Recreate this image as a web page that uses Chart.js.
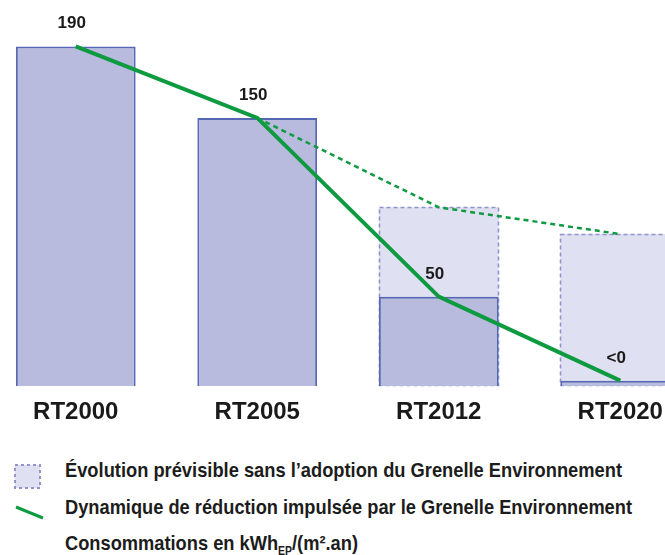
<!DOCTYPE html>
<html><head><meta charset="utf-8">
<script src="https://cdn.jsdelivr.net/npm/chart.js@4"></script>
<style>
html,body{margin:0;padding:0;background:#fff;}
#root{position:relative;width:665px;height:555px;overflow:hidden;background:#fff;}
#wrap{position:absolute;left:-15px;top:0;width:726px;height:440px;}
.leg{position:absolute;left:65px;font-family:"Liberation Sans Narrow","Liberation Sans",Arial,sans-serif;font-weight:bold;font-size:21px;color:#1c1c1c;white-space:nowrap;transform-origin:0 50%;line-height:24px;}
.leg sub{font-size:12px;vertical-align:-5px;line-height:0;}
</style></head><body>
<div id="root">
  <div id="wrap"><canvas id="c"></canvas></div>
  <svg style="position:absolute;left:13px;top:463px" width="30" height="28"><rect x="2" y="2" width="25" height="23" fill="#dfe0f1" stroke="#9093cc" stroke-width="2" stroke-dasharray="3,3"/></svg>
  <svg style="position:absolute;left:13px;top:503px" width="34" height="20"><line x1="3" y1="4" x2="30" y2="15" stroke="#0e9a40" stroke-width="3"/></svg>
  <div class="leg" id="l1" style="top:458px">Évolution prévisible sans l’adoption du Grenelle Environnement</div>
  <div class="leg" id="l2" style="top:495px">Dynamique de réduction impulsée par le Grenelle Environnement</div>
  <div class="leg" id="l3" style="top:531px">Consommations en kWh<sub>EP</sub>/(m².an)</div>
</div>
<script>
const categories = ["RT2000", "RT2005", "RT2012", "RT2020"];
const consommation = [190, 150, 50, 3];
const sansGrenelle = [null, null, 100, 85];
const trajectoireGrenelle = [190, 150, 50, 3];
const trajectoireSans = [null, 150, 100, 85];
const valueLabels = ["190", "150", "50", "<0"];

const GREEN = '#0e9a40';

const dashedBars = {
  id: 'dashedBars',
  afterDatasetDraw(chart, args) {
    if (args.index !== 3) return;
    const ctx = chart.ctx;
    ctx.save();
    ctx.setLineDash([4, 3]);
    ctx.lineWidth = 1.6;
    ctx.strokeStyle = '#9093cc';
    args.meta.data.forEach((el, i) => {
      if (sansGrenelle[i] == null) return;
      const p = el.getProps(['x', 'y', 'base', 'width'], true);
      const l = Math.round(p.x - p.width / 2) + 0.5;
      const r = Math.round(p.x + p.width / 2) - 0.5;
      const t = Math.round(p.y) + 0.5;
      const b = Math.round(p.base) - 0.5;
      ctx.strokeRect(l, t, r - l, b - t);
    });
    ctx.restore();
  }
};

const valueLabelPlugin = {
  id: 'valueLabels',
  afterDatasetsDraw(chart) {
    const meta = chart.getDatasetMeta(0);
    const ctx = chart.ctx;
    ctx.save();
    ctx.font = 'bold 17px "Liberation Sans", Arial, sans-serif';
    ctx.fillStyle = '#1a1a1a';
    ctx.textAlign = 'center';
    ctx.textBaseline = 'alphabetic';
    meta.data.forEach((pt, i) => {
      ctx.fillText(valueLabels[i], pt.x - 4, pt.y - 18);
    });
    ctx.restore();
  }
};

new Chart(document.getElementById('c'), {
  data: {
    labels: categories,
    datasets: [
      { type: 'line', data: trajectoireGrenelle, borderColor: GREEN, borderWidth: 4, pointRadius: 0, tension: 0, order: 0, fill: false },
      { type: 'line', data: trajectoireSans, borderColor: GREEN, borderWidth: 2.5, borderDash: [5, 4], pointRadius: 0, tension: 0, order: 1, fill: false },
      { type: 'bar', data: consommation, backgroundColor: '#b8bbdd', borderColor: '#5668b3', borderWidth: 2, order: 2, grouped: false, barPercentage: 0.66, categoryPercentage: 1 },
      { type: 'bar', data: sansGrenelle, backgroundColor: '#dfe0f1', borderWidth: 0, order: 3, grouped: false, barPercentage: 0.66, categoryPercentage: 1 }
    ]
  },
  options: {
    responsive: true,
    maintainAspectRatio: false,
    animation: false,
    layout: { padding: 0 },
    plugins: { legend: { display: false }, tooltip: { enabled: false } },
    scales: {
      x: {
        type: 'category',
        offset: true,
        grid: { display: false, drawTicks: false },
        border: { display: false },
        ticks: { font: { family: '"Liberation Sans", Arial, sans-serif', size: 24, weight: 'bold' }, color: '#1a1a1a', padding: 12 },
        afterFit(scale) { scale.height = 54; }
      },
      y: { display: false, min: 0, max: 216 }
    }
  },
  plugins: [dashedBars, valueLabelPlugin]
});

// fit legend lines to the reference widths
const targets = { l1: 557, l2: 567, l3: 293 };
Object.keys(targets).forEach(id => {
  const el = document.getElementById(id);
  const w = el.getBoundingClientRect().width;
  if (w > 0) el.style.transform = 'scaleX(' + (targets[id] / w) + ')';
});
</script>
</body></html>
